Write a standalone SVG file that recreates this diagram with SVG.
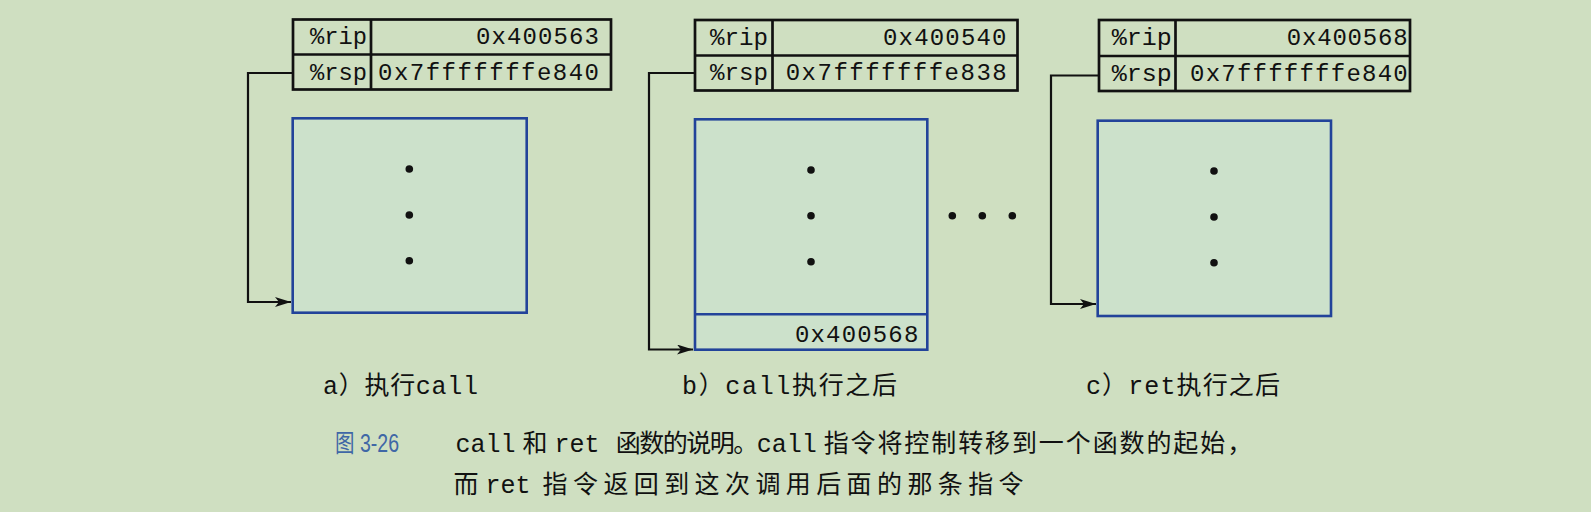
<svg xmlns="http://www.w3.org/2000/svg" width="1591" height="512" viewBox="0 0 1591 512">
<defs>
<style>
.reg{fill:none;stroke:#111;stroke-width:2.7}
.frame{fill:#cce1cb;stroke:#22439a;stroke-width:2.6}
.div{stroke:#22439a;stroke-width:2.6}
.mono{font-family:"Liberation Mono","Courier New",monospace;font-size:24px;fill:#111}
.lbl{font-family:"Liberation Mono","Noto Sans CJK SC",monospace;font-size:25px;fill:#111}
.cap{font-family:"Liberation Mono","Noto Sans CJK SC",sans-serif;font-size:25px;fill:#111;word-spacing:-8px}
.fig{font-family:"Liberation Sans Narrow","Liberation Sans","Noto Sans CJK SC",sans-serif;font-size:25px;fill:#3f67a6}
.conn{fill:none;stroke:#111;stroke-width:2.2}
.dot{fill:#111}
</style>
<marker id="arr" viewBox="0 0 16 10" refX="16" refY="5" markerWidth="16" markerHeight="10" markerUnits="userSpaceOnUse" orient="auto">
<path d="M0,0 L16,5 L0,10 L4,5 Z" fill="#111"/>
</marker>
</defs>
<rect width="1591" height="512" fill="#cfdfc1"/>

<g id="connectors">
<path class="conn" d="M293,73 H248 V302 H291" marker-end="url(#arr)"/>
<path class="conn" d="M695,73 H649 V349.5 H693" marker-end="url(#arr)"/>
<path class="conn" d="M1099,75.5 H1051 V304 H1096" marker-end="url(#arr)"/>
</g>

<g id="regs-a">
<rect class="reg" x="293" y="19.5" width="318" height="70"/>
<line class="reg" x1="293" y1="54.5" x2="611" y2="54.5"/>
<line class="reg" x1="371" y1="19.5" x2="371" y2="89.5"/>
<text class="mono" x="310" y="44" textLength="57" lengthAdjust="spacingAndGlyphs">%rip</text>
<text class="mono" x="476" y="44" textLength="123" lengthAdjust="spacing">0x400563</text>
<text class="mono" x="310" y="79.5" textLength="57" lengthAdjust="spacingAndGlyphs">%rsp</text>
<text class="mono" x="378" y="79.5" textLength="221" lengthAdjust="spacing">0x7fffffffe840</text>
</g>

<g id="stack-a">
<rect class="frame" x="292.7" y="118.3" width="234" height="194.4"/>
<circle class="dot" cx="409.3" cy="169" r="3.8"/>
<circle class="dot" cx="409.3" cy="215" r="3.8"/>
<circle class="dot" cx="409.3" cy="260.7" r="3.8"/>
</g>

<g id="regs-b">
<rect class="reg" x="695" y="20" width="322.5" height="70.5"/>
<line class="reg" x1="695" y1="55.5" x2="1017.5" y2="55.5"/>
<line class="reg" x1="772.5" y1="20" x2="772.5" y2="90.5"/>
<text class="mono" x="710" y="44.5" textLength="58" lengthAdjust="spacingAndGlyphs">%rip</text>
<text class="mono" x="883" y="44.5" textLength="123.5" lengthAdjust="spacing">0x400540</text>
<text class="mono" x="710" y="79.5" textLength="58" lengthAdjust="spacingAndGlyphs">%rsp</text>
<text class="mono" x="785.7" y="79.5" textLength="221" lengthAdjust="spacing">0x7fffffffe838</text>
</g>

<g id="stack-b">
<rect class="frame" x="695" y="119.3" width="232.3" height="230.4"/>
<line class="div" x1="695" y1="314.3" x2="927.3" y2="314.3"/>
<circle class="dot" cx="811" cy="170" r="3.8"/>
<circle class="dot" cx="811" cy="215.7" r="3.8"/>
<circle class="dot" cx="811" cy="261.7" r="3.8"/>
<text class="mono" x="795" y="341.5" textLength="123.3" lengthAdjust="spacing">0x400568</text>
</g>

<g id="ellipsis">
<circle class="dot" cx="952.3" cy="215.7" r="3.8"/>
<circle class="dot" cx="982.3" cy="215.7" r="3.8"/>
<circle class="dot" cx="1012.3" cy="215.7" r="3.8"/>
</g>

<g id="regs-c">
<rect class="reg" x="1099" y="20" width="311" height="71"/>
<line class="reg" x1="1099" y1="56" x2="1410" y2="56"/>
<line class="reg" x1="1175.5" y1="20" x2="1175.5" y2="91"/>
<text class="mono" x="1111.7" y="44.8" textLength="60" lengthAdjust="spacingAndGlyphs">%rip</text>
<text class="mono" x="1286.7" y="44.8" textLength="121" lengthAdjust="spacing">0x400568</text>
<text class="mono" x="1111.7" y="80.5" textLength="60" lengthAdjust="spacingAndGlyphs">%rsp</text>
<text class="mono" x="1190" y="80.5" textLength="217.7" lengthAdjust="spacing">0x7fffffffe840</text>
</g>

<g id="stack-c">
<rect class="frame" x="1097.7" y="120.7" width="233.3" height="195.3"/>
<circle class="dot" cx="1214" cy="171" r="3.8"/>
<circle class="dot" cx="1214" cy="217" r="3.8"/>
<circle class="dot" cx="1214" cy="262.7" r="3.8"/>
</g>

<g id="labels">
<text class="lbl" x="323" y="394" textLength="155" lengthAdjust="spacing">a）执行call</text>
<text class="lbl" x="682" y="394" textLength="215" lengthAdjust="spacing">b）call执行之后</text>
<text class="lbl" x="1086" y="394" textLength="194" lengthAdjust="spacing">c）ret执行之后</text>
</g>

<g id="caption">
<text class="fig" x="335" y="452" textLength="64" lengthAdjust="spacingAndGlyphs">图 3-26</text>
<text class="cap" x="455.6" y="452">call 和 ret <tspan dx="9" letter-spacing="-1.5">函数的说明。</tspan>call <tspan letter-spacing="1.9">指令将控制转移到一个函数的起始，</tspan></text>
<text class="cap" x="453.6" y="493">而 ret <tspan dx="5" letter-spacing="5.4">指令返回到这次调用后面的那条指令</tspan></text>
</g>
</svg>
